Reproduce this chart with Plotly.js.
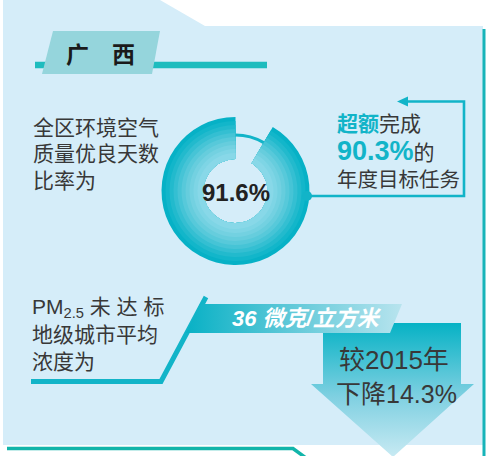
<!DOCTYPE html>
<html>
<head>
<meta charset="utf-8">
<script src="https://cdn.plot.ly/plotly-3.0.1.min.js"></script>
<style>
  body { margin: 0; background: #ffffff; }
  #chart { width: 486px; height: 456px; }
</style>
</head>
<body>
<div id="chart"></div>
<script>
// datos del gráfico
const regionName = "广\u3000西";
const goodDayLabels = ["未达优良", "优良天数"];
const goodDayShare = [8.4, 91.6]; // % de días
const goodDayTitle = ["全区环境空气", "质量优良天数", "比率为"];
const targetShare = 90.3; // % de la meta anual
const pm25Value = 36;
const pm25Unit = "微克/立方米";
const pm25Title = ["PM<sub>2.5</sub> 未 达 标", "地级城市平均", "浓度为"];
const baseYear = 2015;
const dropShare = 14.3;

const W = 486, H = 456;
const teal = "#12b4c8";
const grey = "#383838";
const font = "Liberation Sans, Noto Sans CJK SC, sans-serif";

// polígono decorativo como traza de relleno
function poly(xs, ys, color, grad) {
  const t = {
    type: "scatter", mode: "lines", x: xs, y: ys, fill: "toself",
    fillcolor: color, line: { width: 0 }, hoverinfo: "skip", showlegend: false,
  };
  if (grad) t.fillgradient = grad;
  return t;
}
function path(xs, ys, color, width) {
  return {
    type: "scatter", mode: "lines", x: xs, y: ys,
    line: { color: color, width: width }, hoverinfo: "skip", showlegend: false,
  };
}

const data = [
  // fondo del panel
  poly([3, 160, 205, 483, 483, 3], [0, 0, 26, 26, 445, 445], "#d5edf9"),
  path([484, 484], [29, 456], "#17b4b9", 3),
  path([7, 293, 306], [448.5, 448.5, 458], "#12b5aa", 3.5),
  // título
  path([35, 267], [65, 65], "#1ebcbe", 6.5),
  poly([53, 160, 152, 42], [31, 31, 74, 74], "#95d5dc"),
  // conector y flecha
  path([307, 464, 464, 404], [196, 196, 101.5, 101.5], teal, 2.6),
  poly([397, 408, 408], [101.5, 96.5, 106.5], teal),
  // línea PM2.5
  path([31, 161, 206], [381.5, 381.5, 297], teal, 5),
  // flecha hacia abajo
  poly([323, 461, 461, 474, 393, 311, 323], [323, 323, 384, 384, 457, 384, 384], "#8fd6e4", {
    type: "vertical", colorscale: [[0, "#c8eaf3"], [0.45, "#7fd0e1"], [1, "#06b2c5"]],
  }),
  // banda de 36 微克
  poly([200, 402, 390, 186], [304, 304, 333, 333], "#5cc8d6", {
    type: "horizontal", colorscale: [[0, "#08b1c5"], [0.45, "#5ac7d7"], [1, "#b8e4ee"]],
  }),
];

// anillo: bandas concéntricas para el degradado
const cx = 235.5, cy = 191, hole = 32;
const bandR = [74, 70, 66, 62, 58, 54, 50, 46, 42, 38];
const bandC = ["#06b1c6", "#12b6ca", "#22bacd", "#34bfd2", "#46c4d6", "#57c9da",
               "#66cddd", "#73d1e1", "#7ed5e5", "#88d8e8"];
bandR.forEach((r, i) => {
  data.push({
    type: "pie", labels: goodDayLabels, values: goodDayShare, sort: false,
    direction: "clockwise", rotation: 0, hole: hole / r,
    marker: { colors: ["rgba(0,0,0,0)", bandC[i]], line: { width: 0 } },
    textinfo: "none", hoverinfo: "skip", showlegend: false,
    domain: { x: [(cx - r) / W, (cx + r) / W], y: [(H - cy - r) / H, (H - cy + r) / H] },
  });
});
// arco fino del hueco
const arcR = 57.5;
data.push({
  type: "pie", labels: goodDayLabels, values: goodDayShare, sort: false,
  direction: "clockwise", rotation: 0, hole: 54.5 / arcR,
  marker: { colors: [teal, "rgba(0,0,0,0)"], line: { width: 0 } },
  textinfo: "none", hoverinfo: "skip", showlegend: false,
  domain: { x: [(cx - arcR) / W, (cx + arcR) / W], y: [(H - cy - arcR) / H, (H - cy + arcR) / H] },
});

function label(x, y, text, size, color, anchor, extra) {
  return Object.assign({
    x: x, y: y, xref: "x", yref: "y", text: text, showarrow: false,
    xanchor: anchor || "left", yanchor: "middle",
    font: { family: font, size: size, color: color },
  }, extra || {});
}

const annotations = [
  label(100, 53, "<b>" + regionName + "</b>", 23, "#1a1a1a", "center",
    { font: { family: "Noto Sans CJK SC", size: 23, color: "#1a1a1a" } }),
  label(236, 192, "<b>" + goodDayShare[1] + "%</b>", 24, "#222222", "center"),
  label(307, 318, "<b><i>" + pm25Value + " " + pm25Unit + "</i></b>", 22, "#ffffff", "center"),
  label(394, 360, "较" + baseYear + "年", 26, grey, "center"),
  label(396, 394, "下降" + dropShare + "%", 25, grey, "center"),
  label(335, 123, "<b><span style='color:" + teal + "'>超额</span></b>完成", 21, grey),
  label(335, 151, "<b><span style='color:" + teal + ";font-size:27px'>" + targetShare + "%</span></b>的", 21, grey),
  label(335, 179, "年度目标任务", 20.5, grey),
];
goodDayTitle.forEach((t, i) => annotations.push(label(31, 127 + i * 26.5, t, 21, grey)));
pm25Title.forEach((t, i) => annotations.push(label(30, 308 + i * 26.5, t, 21, grey)));

const layout = {
  width: W, height: H,
  margin: { l: 0, r: 0, t: 0, b: 0 },
  paper_bgcolor: "#ffffff", plot_bgcolor: "rgba(0,0,0,0)",
  xaxis: { range: [0, W], visible: false, fixedrange: true },
  yaxis: { range: [H, 0], visible: false, fixedrange: true },
  showlegend: false,
  annotations: annotations,
  shapes: [
    { type: "circle", xref: "x", yref: "y", x0: 302, x1: 312, y0: 191, y1: 201,
      fillcolor: teal, line: { width: 0 }, layer: "above" },
  ],
};

Plotly.newPlot("chart", data, layout, { displayModeBar: false, staticPlot: true });
</script>
</body>
</html>
